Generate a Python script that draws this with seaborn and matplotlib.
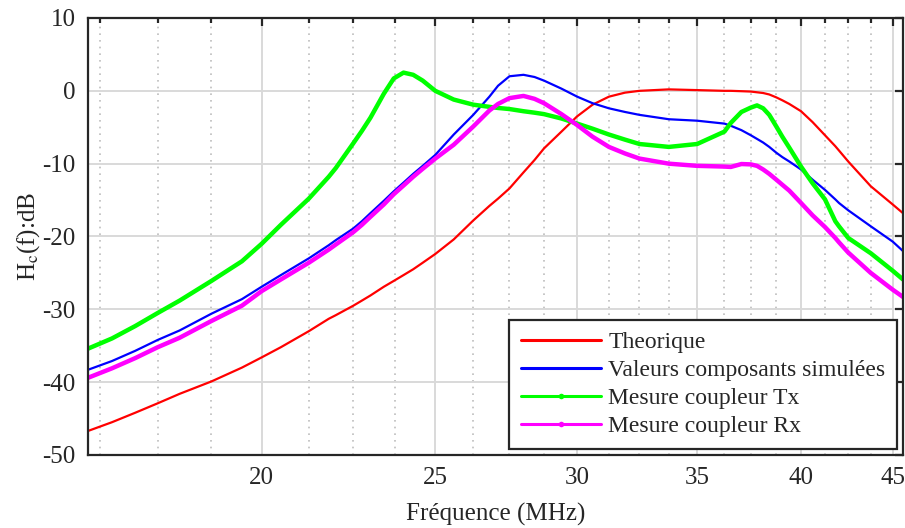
import numpy as np
import pandas as pd
import matplotlib
matplotlib.use("Agg")
import matplotlib.pyplot as plt
import matplotlib.ticker as mticker
from matplotlib.lines import Line2D
import seaborn as sns

# frequency points (MHz)
freq = [16, 16.5, 17, 17.5, 18, 18.75, 19.5, 20, 20.5, 21.25, 21.8, 22.0, 22.5,
        22.75, 23.0, 23.4, 23.7, 24.0, 24.3, 24.6, 25, 25.6, 26.25, 26.8, 27.1,
        27.5, 28, 28.4, 28.75, 29.4, 30, 30.6, 31.25, 31.9, 32.5, 33.75, 35,
        36.25, 36.55, 37.05, 37.5, 37.8, 38.1, 38.4, 38.75, 39.05, 39.4, 40,
        40.6, 41.25, 41.8, 42.0, 42.5, 43.75, 45, 45.6]

theorique = [-46.7, -45.5, -44.2, -42.9, -41.6, -39.9, -38.0, -36.6, -35.2, -33.0,
             -31.3, -30.8, -29.5, -28.8, -28.1, -26.9, -26.1, -25.3, -24.5, -23.6,
             -22.4, -20.4, -17.8, -15.8, -14.8, -13.4, -11.2, -9.5, -7.9, -5.6,
             -3.5, -1.9, -0.8, -0.25, 0.0, 0.2, 0.1, 0.0, 0.0, -0.05,
             -0.1, -0.2, -0.3, -0.5, -0.9, -1.3, -1.8, -2.8, -4.3, -6.1,
             -7.6, -8.2, -9.7, -13.1, -15.6, -16.8]

simule = [-38.3, -37.1, -35.7, -34.2, -32.9, -30.6, -28.6, -26.9, -25.3, -23.0,
          -21.2, -20.5, -18.9, -17.9, -16.8, -15.1, -13.8, -12.6, -11.4, -10.3,
          -8.8, -6.0, -3.3, -0.8, 0.7, 2.0, 2.2, 1.9, 1.4, 0.3,
          -0.8, -1.7, -2.4, -2.9, -3.3, -3.9, -4.1, -4.5, -4.8, -5.4,
          -6.1, -6.6, -7.1, -7.7, -8.5, -9.1, -9.7, -10.8, -12.2, -13.6,
          -14.9, -15.4, -16.4, -18.6, -20.7, -22.0]

mesure_tx = [-35.4, -34.0, -32.3, -30.5, -28.8, -26.1, -23.4, -21.0, -18.4, -14.8,
             -11.8, -10.6, -7.2, -5.5, -3.7, -0.4, 1.7, 2.5, 2.2, 1.4,
             0.0, -1.2, -1.9, -2.2, -2.35, -2.5, -2.8, -3.0, -3.2, -3.8,
             -4.5, -5.2, -6.0, -6.7, -7.3, -7.7, -7.3, -5.6, -4.4, -2.9,
             -2.3, -2.0, -2.4, -3.3, -4.9, -6.3, -7.8, -10.4, -12.7, -14.9,
             -17.9, -18.6, -20.2, -22.3, -24.7, -25.9]

mesure_rx = [-39.4, -38.1, -36.7, -35.2, -33.9, -31.6, -29.5, -27.5, -25.9, -23.6,
             -21.8, -21.1, -19.4, -18.4, -17.3, -15.6, -14.2, -13.0, -11.8, -10.7,
             -9.3, -7.4, -4.9, -2.7, -1.8, -1.0, -0.7, -1.1, -1.7, -3.2,
             -4.7, -6.3, -7.7, -8.6, -9.3, -10.0, -10.3, -10.4, -10.45, -10.05,
             -10.1, -10.3, -10.8, -11.4, -12.2, -12.9, -13.7, -15.4, -17.1, -18.7,
             -20.2, -20.8, -22.2, -25.0, -27.3, -28.3]

labels = ["Theorique", "Valeurs composants simulées",
          "Mesure coupleur Tx", "Mesure coupleur Rx"]
colors = ["#ff0000", "#0000ff", "#00ff00", "#ff00ff"]
x_ticks = [20, 25, 30, 35, 40, 45]
y_ticks = [-50, -40, -30, -20, -10, 0, 10]

df = pd.DataFrame({"freq": freq, labels[0]: theorique, labels[1]: simule,
                   labels[2]: mesure_tx, labels[3]: mesure_rx})

sns.set_style("white")
plt.rcParams["font.family"] = ["Liberation Serif", "DejaVu Serif"]
plt.rcParams["mathtext.fontset"] = "stix"
plt.rcParams["axes.unicode_minus"] = False

fig = plt.figure(figsize=(9.05, 5.28), dpi=100)
ax = fig.add_axes([88 / 905, 1 - 455 / 528, 815 / 905, 437 / 528])

handles = []
for i, name in enumerate(labels):
    lw = 1.6 if i < 2 else 3.2
    sns.lineplot(x=df["freq"], y=df[name], ax=ax, color=colors[i],
                 linewidth=lw, sort=False, legend=False)
    handles.append(Line2D([], [], color=colors[i], linewidth=2.2,
                          marker="o" if i >= 2 else None, markersize=4,
                          markeredgewidth=0, label=name))

ax.set_xscale("log")
ax.set_xlim(16, 45.6)
ax.set_ylim(-50, 10)
ax.xaxis.set_major_locator(mticker.FixedLocator(x_ticks))
ax.xaxis.set_major_formatter(mticker.FixedFormatter([str(t) for t in x_ticks]))
minor = [m for m in np.arange(16.25, 45.6, 1.25) if m not in x_ticks]
ax.xaxis.set_minor_locator(mticker.FixedLocator(minor))
ax.xaxis.set_minor_formatter(mticker.NullFormatter())
ax.set_yticks(y_ticks)

ax.grid(True, which="major", color="#d9d9d9", linewidth=1.4, linestyle="-")
ax.grid(True, which="minor", axis="x", color="#bdbdbd", linewidth=1.2,
        linestyle=(0, (1, 3)))
ax.set_axisbelow(True)

for s in ax.spines.values():
    s.set_visible(True)
    s.set_color("#262626")
    s.set_linewidth(1.6)
ax.tick_params(which="both", direction="in", top=True, right=True,
               color="#262626", width=1.6, labelsize=18, labelcolor="#262626")
ax.tick_params(which="major", length=6, pad=9)
ax.tick_params(which="minor", length=3.5)

ax.set_xlabel("Fréquence (MHz)", fontsize=18, color="#262626", labelpad=10)
ax.set_ylabel(r"H$_\mathrm{c}$(f):dB", fontsize=18, color="#262626", labelpad=0)

leg = ax.legend(handles=handles, loc="lower right", fontsize=17, frameon=True,
                fancybox=False, edgecolor="#262626", framealpha=1,
                borderaxespad=0.25, handlelength=3.4, handletextpad=0.3,
                labelspacing=0.28, borderpad=0.5, numpoints=1)
leg.get_frame().set_linewidth(1.6)

fig.savefig("out.png", dpi=100)
